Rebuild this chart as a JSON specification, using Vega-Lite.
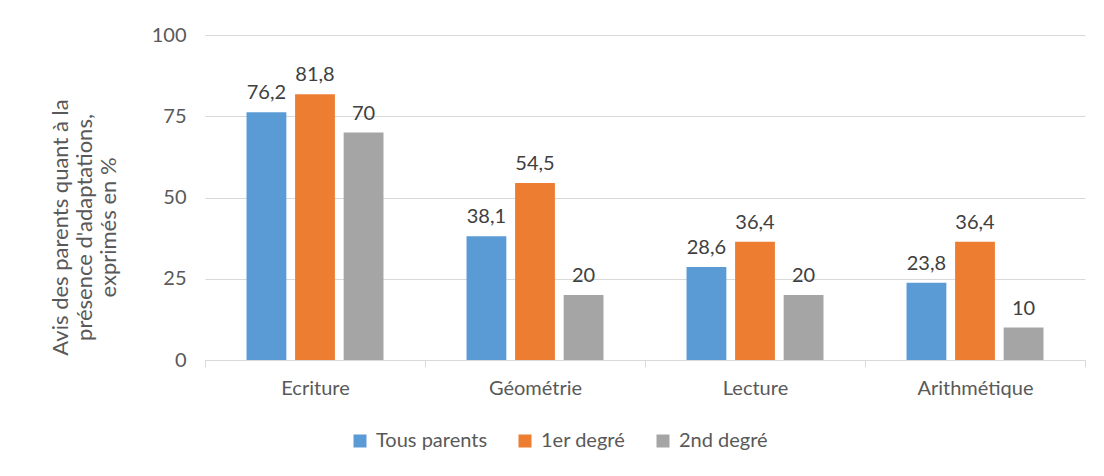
{
  "$schema": "https://vega.github.io/schema/vega-lite/v6.json",
  "width": 880,
  "height": 325,
  "autosize": {"type": "none"},
  "padding": {"left": 205, "top": 35, "right": 19, "bottom": 116},
  "background": "white",
  "config": {
    "font": "Lato",
    "view": {"stroke": null},
    "axis": {"labelFont": "Lato", "titleFont": "Lato", "labelColor": "#595959", "titleColor": "#595959", "labelFontSize": 20, "titleFontSize": 22, "titleFontWeight": "normal"}
  },
  "data": {
    "values": [
      {"cat": "Ecriture", "serie": "Tous parents", "v": 76.2, "lab": "76,2"},
      {"cat": "Ecriture", "serie": "1er degré", "v": 81.8, "lab": "81,8"},
      {"cat": "Ecriture", "serie": "2nd degré", "v": 70, "lab": "70"},
      {"cat": "Géométrie", "serie": "Tous parents", "v": 38.1, "lab": "38,1"},
      {"cat": "Géométrie", "serie": "1er degré", "v": 54.5, "lab": "54,5"},
      {"cat": "Géométrie", "serie": "2nd degré", "v": 20, "lab": "20"},
      {"cat": "Lecture", "serie": "Tous parents", "v": 28.6, "lab": "28,6"},
      {"cat": "Lecture", "serie": "1er degré", "v": 36.4, "lab": "36,4"},
      {"cat": "Lecture", "serie": "2nd degré", "v": 20, "lab": "20"},
      {"cat": "Arithmétique", "serie": "Tous parents", "v": 23.8, "lab": "23,8"},
      {"cat": "Arithmétique", "serie": "1er degré", "v": 36.4, "lab": "36,4"},
      {"cat": "Arithmétique", "serie": "2nd degré", "v": 10, "lab": "10"}
    ]
  },
  "encoding": {
    "x": {
      "field": "cat", "type": "nominal", "sort": null,
      "scale": {"paddingInner": 0, "paddingOuter": 0},
      "axis": {"title": null, "labelAngle": 0, "bandPosition": 0, "tickBand": "extent", "domainColor": "#D9D9D9", "tickColor": "#D9D9D9", "tickSize": 7, "labelPadding": 11, "grid": false}
    },
    "xOffset": {
      "field": "serie", "type": "nominal", "sort": ["Tous parents", "1er degré", "2nd degré"],
      "scale": {"paddingInner": 0.18, "paddingOuter": 0.855}
    },
    "y": {
      "field": "v", "type": "quantitative",
      "scale": {"domain": [0, 100]},
      "axis": {
        "values": [0, 25, 50, 75, 100],
        "title": ["Avis des parents quant à la", "présence d'adaptations,", "exprimés en %"],
        "titleAngle": -90, "titleAlign": "center", "titleBaseline": "top",
        "titleX": -155, "titleY": 192, "titleLineHeight": 24,
        "domain": false, "ticks": false, "labelPadding": 19,
        "gridColor": "#D9D9D9", "gridWidth": 1
      }
    }
  },
  "layer": [
    {
      "mark": {"type": "bar"},
      "encoding": {
        "color": {
          "field": "serie", "type": "nominal",
          "sort": ["Tous parents", "1er degré", "2nd degré"],
          "scale": {"domain": ["Tous parents", "1er degré", "2nd degré"], "range": ["#5B9BD5", "#ED7D31", "#A5A5A5"]},
          "legend": {
            "title": null, "orient": "none", "direction": "horizontal",
            "legendX": 145, "legendY": 396,
            "symbolType": "square", "symbolSize": 169, "symbolStrokeWidth": 0,
            "labelFontSize": 20, "labelColor": "#595959", "labelFont": "Lato",
            "labelOffset": 6, "columnPadding": 27
          }
        }
      }
    },
    {
      "mark": {"type": "text", "baseline": "bottom", "dy": -9, "fontSize": 20, "color": "#404040", "font": "Lato"},
      "encoding": {"text": {"field": "lab"}}
    }
  ]
}
